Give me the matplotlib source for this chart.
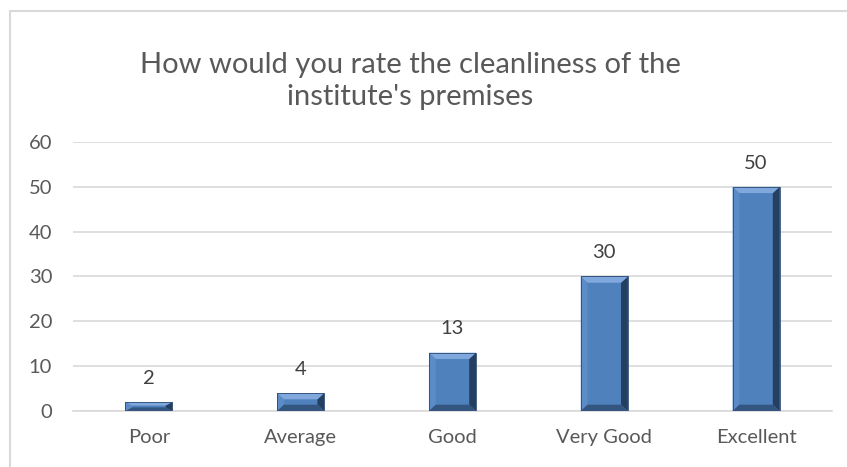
import matplotlib.pyplot as plt
import matplotlib.patches as mpatches
import numpy as np

categories = ["Poor", "Average", "Good", "Very Good", "Excellent"]
values = [2, 4, 13, 30, 50]
yticks = [0, 10, 20, 30, 40, 50, 60]

plt.rcParams['font.family'] = ['Lato', 'DejaVu Sans']

fig = plt.figure(figsize=(8.47, 4.67), dpi=100)
ax = fig.add_axes([0.0862, 0.12, 0.8961, 0.576])

x = np.arange(len(categories))
barw = 0.31
bars = ax.bar(x, values, width=barw, color="#4f81bd", edgecolor="none",
              linewidth=0, zorder=3)

# bevel look, built from each bar's own data box
dx = 0.045
for b in bars:
    x0, x1 = b.get_x(), b.get_x() + b.get_width()
    h = b.get_height()
    dy = min(1.4, h / 2.5)
    parts = [
        ([(x0, 0), (x0 + dx, dy), (x0 + dx, h - dy), (x0, h)], "#5b8cc8"),
        ([(x1, 0), (x1 - dx, dy), (x1 - dx, h - dy), (x1, h)], "#253f60"),
        ([(x0, h), (x0 + dx, h - dy), (x1 - dx, h - dy), (x1, h)], "#80a8dc"),
        ([(x0, 0), (x0 + dx, dy), (x1 - dx, dy), (x1, 0)], "#33557f"),
    ]
    for pts, c in parts:
        ax.add_patch(mpatches.Polygon(pts, closed=True, facecolor=c,
                                      edgecolor="none", zorder=4))
    ax.add_patch(mpatches.Rectangle((x0, 0), b.get_width(), h, fill=False,
                                    edgecolor="#2a4a72", linewidth=0.6, zorder=5))
    ax.text(b.get_x() + b.get_width() / 2, h + 5.3, str(int(h)), ha="center",
            va="center", fontsize=14.5, color="#404040")

ax.set_ylim(0, 60)
ax.set_xlim(-0.5, len(categories) - 0.5)
ax.set_yticks(yticks)
ax.set_xticks(x)
ax.set_xticklabels(categories)
ax.tick_params(length=0, labelsize=14.5, colors="#595959", pad=13)
ax.tick_params(axis="y", pad=15)
ax.yaxis.grid(True, color="#d9d9d9", linewidth=1.2, zorder=0)
for s in ["top", "right", "left"]:
    ax.spines[s].set_visible(False)
ax.spines["bottom"].set_color("#d9d9d9")
ax.spines["bottom"].set_linewidth(1.2)

fig.text(0.484, 0.826, "How would you rate the cleanliness of the\ninstitute's premises",
         ha="center", va="center", fontsize=21, color="#595959", linespacing=1.3)

# chart border
fig.patches.append(mpatches.Rectangle((10 / 847, -0.05), 1.1, 1 - 10.5 / 467 + 0.05,
                                      transform=fig.transFigure, fill=False,
                                      edgecolor="#d9d9d9", linewidth=1.5))

fig.savefig("out.png", dpi=100)
